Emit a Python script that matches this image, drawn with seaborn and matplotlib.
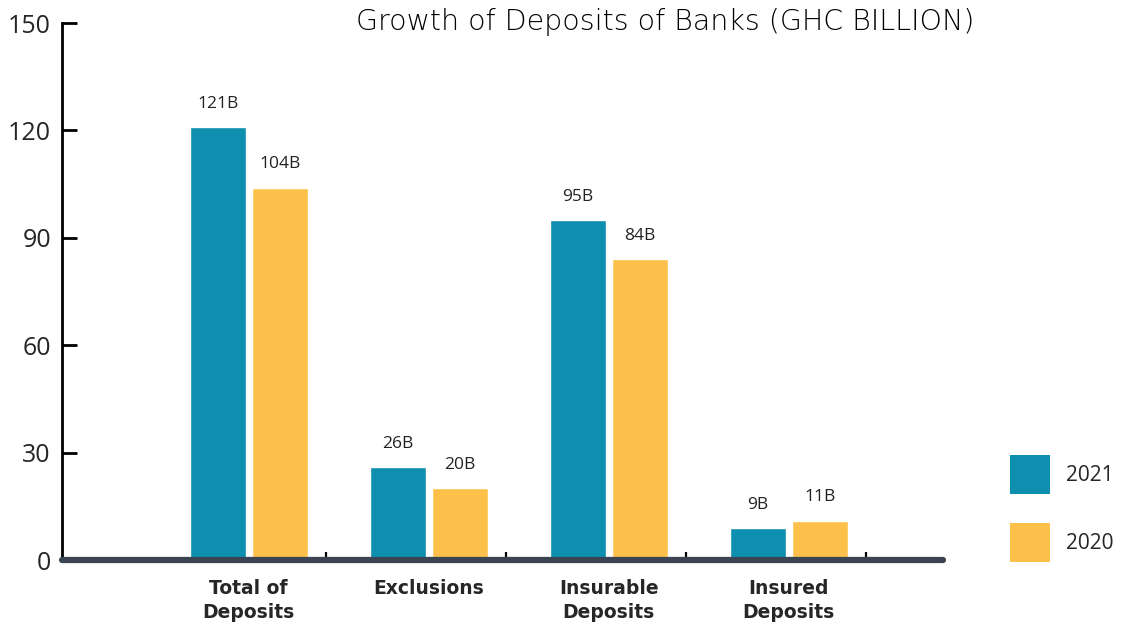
import numpy as np
import pandas as pd
import matplotlib.pyplot as plt
import seaborn as sns
from matplotlib.patches import Patch

# data
categories = ['Total of\nDeposits', 'Exclusions', 'Insurable\nDeposits', 'Insured\nDeposits']
years = ['2021', '2020']
values_2021 = [121, 26, 95, 9]
values_2020 = [104, 20, 84, 11]
yticks = [0, 30, 60, 90, 120, 150]

teal = '#0e8fb0'
yellow = '#fdc14b'

df = pd.DataFrame({
    'category': categories * 2,
    'year': [years[0]] * 4 + [years[1]] * 4,
    'value': values_2021 + values_2020,
})

sns.set_style('white')
plt.rcParams['font.family'] = ['Open Sans', 'DejaVu Sans']

fig = plt.figure(figsize=(11.24, 6.26), dpi=100)
ax = fig.add_axes([0.0552, 0.1054, 0.7838, 0.8578])

sns.barplot(data=df, x='category', y='value', hue='year', hue_order=years,
            order=categories, palette=[teal, yellow], width=0.69, gap=0.1,
            saturation=1, ax=ax, legend=False)

# value labels above bars
for cont, vals in zip(ax.containers, [values_2021, values_2020]):
    ax.bar_label(cont, labels=[f'{v}B' for v in vals], padding=11,
                 fontsize=12.5, color='#222222')

ax.set_xlim(-1.037, 3.857)
ax.set_ylim(0, 150)
ax.set_yticks(yticks)
ax.set_xlabel('')
ax.set_ylabel('')

# category separators as major ticks, labels on minor ticks
n = len(categories)
ax.set_xticks([i + 0.43 for i in range(n)])
ax.set_xticklabels([])
ax.set_xticks(range(n), minor=True)
ax.set_xticklabels(categories, minor=True, fontsize=13.5, fontweight='bold',
                   linespacing=1.3, family='DejaVu Sans')
ax.tick_params(axis='x', which='major', direction='in', length=6, width=1.6,
               color='black', bottom=True)
ax.tick_params(axis='x', which='minor', length=0, pad=14)
ax.tick_params(axis='y', direction='in', length=11, width=2, color='black',
               left=True, labelsize=18, pad=8)

for s in ['top', 'right']:
    ax.spines[s].set_visible(False)
ax.spines['left'].set_linewidth(2)
ax.spines['left'].set_color('black')
ax.spines['bottom'].set_linewidth(4.5)
ax.spines['bottom'].set_color('#3a4453')
ax.spines['bottom'].set_capstyle('round')
ax.spines['bottom'].set_zorder(5)

fig.text(0.5916, 0.965, 'Growth of Deposits of Banks (GHC BILLION)',
         ha='center', va='center', fontsize=20.5, color='#000000',
         family='DejaVu Sans', fontweight='light')

handles = [Patch(facecolor=c, edgecolor='none') for c in [teal, yellow]]
fig.legend(handles, years, loc='upper left', bbox_to_anchor=(0.8895, 0.29),
           frameon=False, fontsize=15, handlelength=1.9, handleheight=2.5,
           labelspacing=1.4, handletextpad=0.8, borderpad=0)

fig.savefig('out.png', dpi=100)
